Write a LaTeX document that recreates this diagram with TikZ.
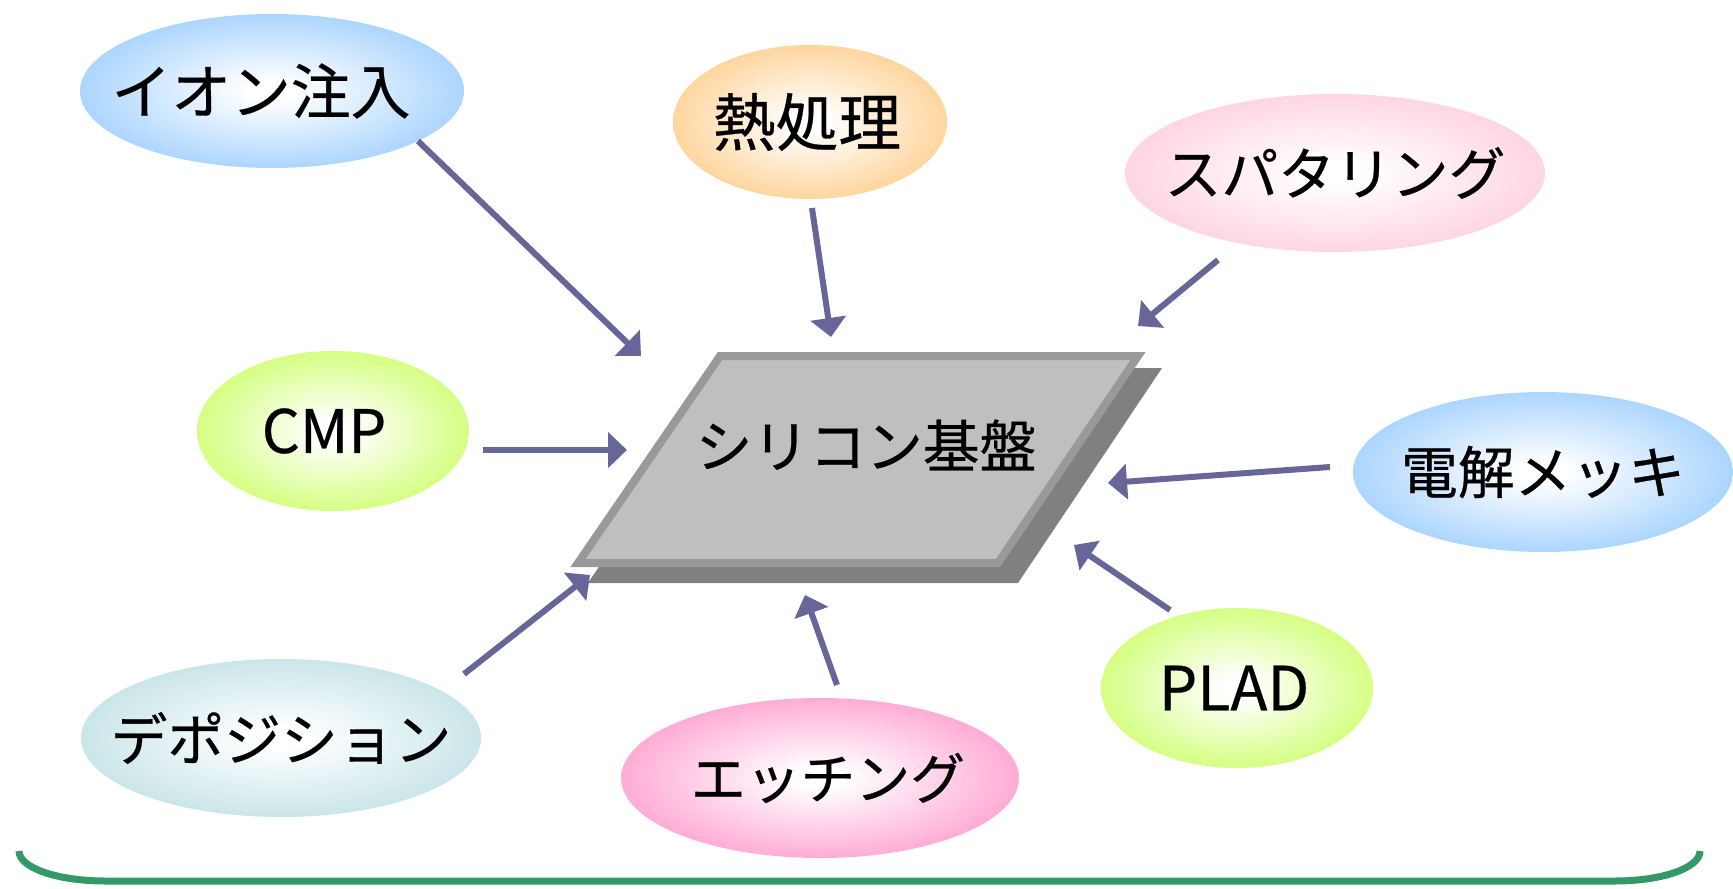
\documentclass[tikz,border=0pt]{standalone}
\usepackage{fontspec}
\setmainfont[FakeBold=0.5]{Noto Sans CJK JP}
\usetikzlibrary{shapes.geometric,arrows.meta,calc}
\definecolor{cblue}{RGB}{153,204,255}
\definecolor{corange}{RGB}{255,204,136}
\definecolor{cpink}{RGB}{255,204,221}
\definecolor{cgreen}{RGB}{204,255,102}
\definecolor{cteal}{RGB}{190,224,228}
\definecolor{cmag}{RGB}{255,153,204}
\definecolor{arrcol}{RGB}{102,102,153}
\definecolor{sifill}{RGB}{191,191,191}
\definecolor{siedge}{RGB}{153,153,153}
\definecolor{sishadow}{RGB}{128,128,128}
\definecolor{bracecol}{RGB}{51,153,102}
\colorlet{shout}{white}
\pgfdeclareradialshading[shout]{elshade}{\pgfpoint{0bp}{0bp}}{color(0bp)=(white); color(3bp)=(white); color(30bp)=(shout); color(50bp)=(shout)}
\tikzset{
  elp/.style={ellipse, inner sep=0pt, /utils/exec={\colorlet{shout}{#1}}, shade, shading=elshade},
  lbl/.style={inner sep=0pt, font=\fontsize{#1}{#1}\selectfont},
  lbl/.default=57,
  conn/.style={draw=arrcol, line width=6bp, -{Triangle[length=19bp,width=35bp]}},
}
\begin{document}
\begin{tikzpicture}[x=1bp,y=-1bp]
\useasboundingbox (0,0) rectangle (1733,888);
% ellipses
\node[elp=cblue, minimum width=384bp, minimum height=154bp] (ion) at (272,91) {};
\node[elp=corange, minimum width=274bp, minimum height=154bp] (heat) at (810,122) {};
\node[elp=cpink, minimum width=420bp, minimum height=158bp] (sput) at (1335,173) {};
\node[elp=cgreen, minimum width=272bp, minimum height=160bp] (cmp) at (333,431) {};
\node[elp=cblue, minimum width=380bp, minimum height=160bp] (plat) at (1543,472) {};
\node[elp=cgreen, minimum width=272bp, minimum height=160bp] (plad) at (1237,688) {};
\node[elp=cteal, minimum width=400bp, minimum height=158bp] (depo) at (281,738) {};
\node[elp=cmag, minimum width=398bp, minimum height=160bp] (etch) at (820,778) {};
% labels
\node[lbl=60] (ion-t) at ($(ion)+(-11,0)$) {イオン注入};
\node[lbl=63] (heat-t) at ($(heat)+(-3,0)$) {熱処理};
\node[lbl] (sput-t) at (sput) {スパタリング};
\node[lbl=60] (cmp-t) at ($(cmp)+(-9,0)$) {CMP};
\node[lbl] (plat-t) at (plat) {電解メッキ};
\node[lbl=61] (plad-t) at ($(plad)+(-3,0)$) {PLAD};
\node[lbl] (depo-t) at (depo) {デポジション};
\node[lbl=55] (etch-t) at ($(etch)+(8,0)$) {エッチング};
% silicon substrate
\fill[sishadow] (733,368) -- (1162,368) -- (1018,583) -- (588,583) -- cycle;
\draw[fill=sifill, draw=siedge, line width=8bp, line join=miter] (720,356) -- (1138,356) -- (998,563) -- (578,563) -- cycle;
\coordinate (si) at (857,459);
\node[lbl] (si-t) at (866,445) {シリコン基盤};
% connectors
\draw[conn] ($(ion)+(146,50)$) -- ($(si)+(-216,-103)$);
\draw[conn] ($(heat)+(2,86)$) -- ($(si)+(-26,-122)$);
\draw[conn] ($(sput)+(-117,87)$) -- ($(si)+(281,-133)$);
\draw[conn] ($(cmp)+(150,19)$) -- ($(si)+(-230,-9)$);
\draw[conn] ($(plat)+(-213,-5)$) -- ($(si)+(251,24)$);
\draw[conn] ($(plad)+(-67,-78)$) -- ($(si)+(217,86)$);
\draw[conn] ($(depo)+(183,-64)$) -- ($(si)+(-267,116)$);
\draw[conn] ($(etch)+(17,-93)$) -- ($(si)+(-52,136)$);
% bottom brace
\draw[bracecol, line width=7bp] (19,851) .. controls (19,868) and (58,881) .. (105,881) -- (1615,881) .. controls (1662,881) and (1700,868) .. (1700,851);
\end{tikzpicture}
\end{document}
